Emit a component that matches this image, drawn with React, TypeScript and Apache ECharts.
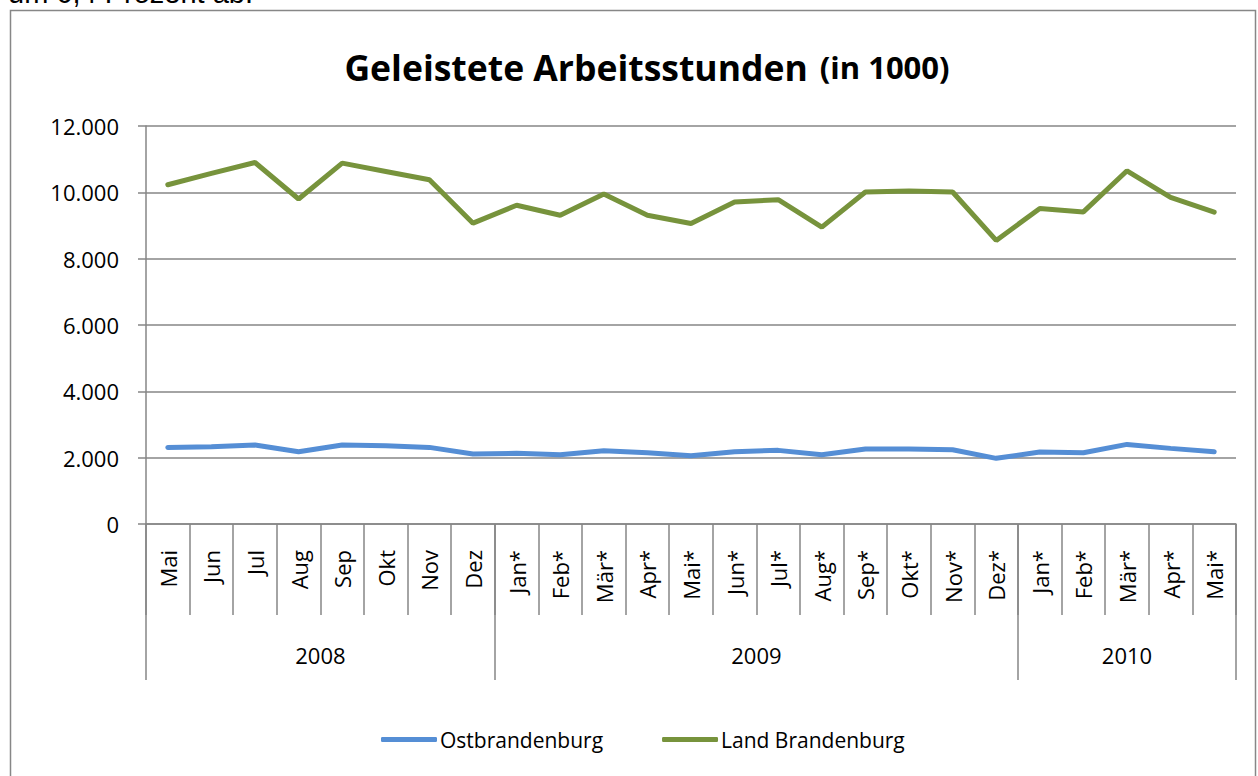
import { useEffect, useRef } from 'react';
import * as echarts from 'echarts';

const TOP_TEXT = 'um 6,4 Prozent ab.';
const TITLE_MAIN = 'Geleistete Arbeitsstunden';
const TITLE_UNIT = '(in 1000)';

const MONTHS = [
  'Mai', 'Jun', 'Jul', 'Aug', 'Sep', 'Okt', 'Nov', 'Dez',
  'Jan*', 'Feb*', 'Mär*', 'Apr*', 'Mai*', 'Jun*', 'Jul*', 'Aug*', 'Sep*', 'Okt*', 'Nov*', 'Dez*',
  'Jan*', 'Feb*', 'Mär*', 'Apr*', 'Mai*',
];
const YEARS = ['2008', '2009', '2010'];
const YEAR_SPANS = [8, 12, 5];

const SERIES_NAMES = ['Ostbrandenburg', 'Land Brandenburg'];
const OSTBRANDENBURG = [
  2310, 2330, 2380, 2180, 2380, 2360, 2310, 2110,
  2130, 2090, 2210, 2150, 2060, 2180, 2220, 2090, 2260, 2260, 2240, 1980,
  2170, 2150, 2400, 2280, 2180,
];
const LAND_BRANDENBURG = [
  10230, 10570, 10900, 9800, 10880, 10630, 10380, 9070,
  9610, 9310, 9950, 9310, 9060, 9710, 9780, 8950, 10010, 10040, 10010, 8550,
  9510, 9410, 10650, 9850, 9400,
];
const Y_MIN = 0;
const Y_MAX = 12000;
const Y_STEP = 2000;

const COLORS = ['#558ED5', '#77933C'];
const GRAY = '#868686';
const FONT = '"Open Sans", sans-serif';

function fmtThousands(v: number): string {
  return String(Math.round(v)).replace(/\B(?=(\d{3})+(?!\d))/g, '.');
}

export default function App() {
  const ref = useRef<HTMLDivElement>(null);

  useEffect(() => {
    if (!ref.current) return;
    const chart = echarts.init(ref.current, undefined, { renderer: 'svg' });

    const starts: number[] = [];
    let acc = 0;
    YEAR_SPANS.forEach((s) => {
      starts.push(acc);
      acc += s;
    });
    const total = acc;
    const centers = YEAR_SPANS.map((s, i) => starts[i] + s / 2);

    const option: echarts.EChartsOption = {
      animation: false,
      backgroundColor: '#fff',
      textStyle: { fontFamily: FONT, color: '#000' },
      grid: { left: 146, top: 126, width: 1090, height: 398, containLabel: false },
      graphic: [
        {
          type: 'rect',
          shape: { x: 10.5, y: 10.5, width: 1245, height: 800 },
          style: { fill: 'none', stroke: '#878787', lineWidth: 1.5 },
          silent: true,
        },
        {
          type: 'text',
          x: 8,
          y: -7,
          style: {
            text: TOP_TEXT,
            font: '29px "Liberation Sans", Arial, sans-serif',
            fill: '#000',
            verticalAlign: 'middle',
            align: 'left',
          },
          silent: true,
        },
        {
          type: 'text',
          x: 647,
          y: 67,
          style: {
            text: `{a|${TITLE_MAIN}}{b|${TITLE_UNIT}}`,
            align: 'center',
            verticalAlign: 'middle',
            fill: '#000',
            rich: {
              a: { fontFamily: FONT, fontWeight: 'bold', fontSize: 35.5, fill: '#000' },
              b: { fontFamily: FONT, fontWeight: 'bold', fontSize: 31, fill: '#000', padding: [0, 0, 0, 12] },
            },
          } as any,
          silent: true,
        },
      ],
      legend: {
        data: SERIES_NAMES.map((n) => ({ name: n, icon: 'roundRect' })),
        left: 381,
        top: 729,
        padding: 0,
        itemWidth: 56,
        itemHeight: 5,
        itemGap: 59,
        textStyle: { fontFamily: FONT, fontSize: 21, color: '#000', padding: [0, 0, 0, -2] },
      },
      xAxis: [
        {
          type: 'category',
          data: MONTHS,
          position: 'bottom',
          boundaryGap: true,
          axisLine: { show: true, lineStyle: { color: GRAY, width: 1.5 } },
          axisTick: { show: true, interval: 0, length: 91, lineStyle: { color: GRAY, width: 1.5 } },
          axisLabel: {
            interval: 0,
            rotate: 90,
            margin: 26,
            fontFamily: FONT,
            fontSize: 22,
            color: '#000',
          },
          splitLine: { show: false },
        },
        {
          type: 'category',
          data: MONTHS,
          position: 'bottom',
          boundaryGap: true,
          axisLine: { show: false },
          axisTick: {
            show: true,
            interval: (i: number) => starts.includes(i),
            length: 156,
            lineStyle: { color: GRAY, width: 1.5 },
          },
          axisLabel: { show: false },
          splitLine: { show: false },
        },
        {
          type: 'value',
          min: 0,
          max: total,
          interval: 0.5,
          position: 'bottom',
          axisLine: { show: false },
          axisTick: { show: false },
          splitLine: { show: false },
          axisLabel: {
            margin: 120,
            fontFamily: FONT,
            fontSize: 22,
            color: '#000',
            showMinLabel: true,
            showMaxLabel: true,
            formatter: (v: number) => {
              const k = centers.findIndex((c) => Math.abs(c - v) < 1e-6);
              return k >= 0 ? YEARS[k] : '';
            },
          },
        },
      ],
      yAxis: {
        type: 'value',
        min: Y_MIN,
        max: Y_MAX,
        interval: Y_STEP,
        axisLine: { show: true, lineStyle: { color: GRAY, width: 1.5 } },
        axisTick: { show: true, length: 8, lineStyle: { color: GRAY, width: 1.5 } },
        axisLabel: {
          margin: 27,
          fontFamily: FONT,
          fontSize: 22,
          color: '#000',
          formatter: (v: number) => fmtThousands(v),
        },
        splitLine: { show: true, lineStyle: { color: GRAY, width: 1.5 } },
      },
      series: [
        {
          name: SERIES_NAMES[0],
          type: 'line',
          xAxisIndex: 0,
          data: OSTBRANDENBURG,
          symbol: 'none',
          color: COLORS[0],
          lineStyle: { width: 5, color: COLORS[0], cap: 'round' },
        },
        {
          name: SERIES_NAMES[1],
          type: 'line',
          xAxisIndex: 0,
          data: LAND_BRANDENBURG,
          symbol: 'none',
          color: COLORS[1],
          lineStyle: { width: 5, color: COLORS[1], cap: 'round' },
        },
      ],
    };

    chart.setOption(option);
    return () => chart.dispose();
  }, []);

  return (
    <div
      ref={ref}
      style={{ position: 'fixed', left: 0, top: 0, width: 1258, height: 776, background: '#fff' }}
    />
  );
}
